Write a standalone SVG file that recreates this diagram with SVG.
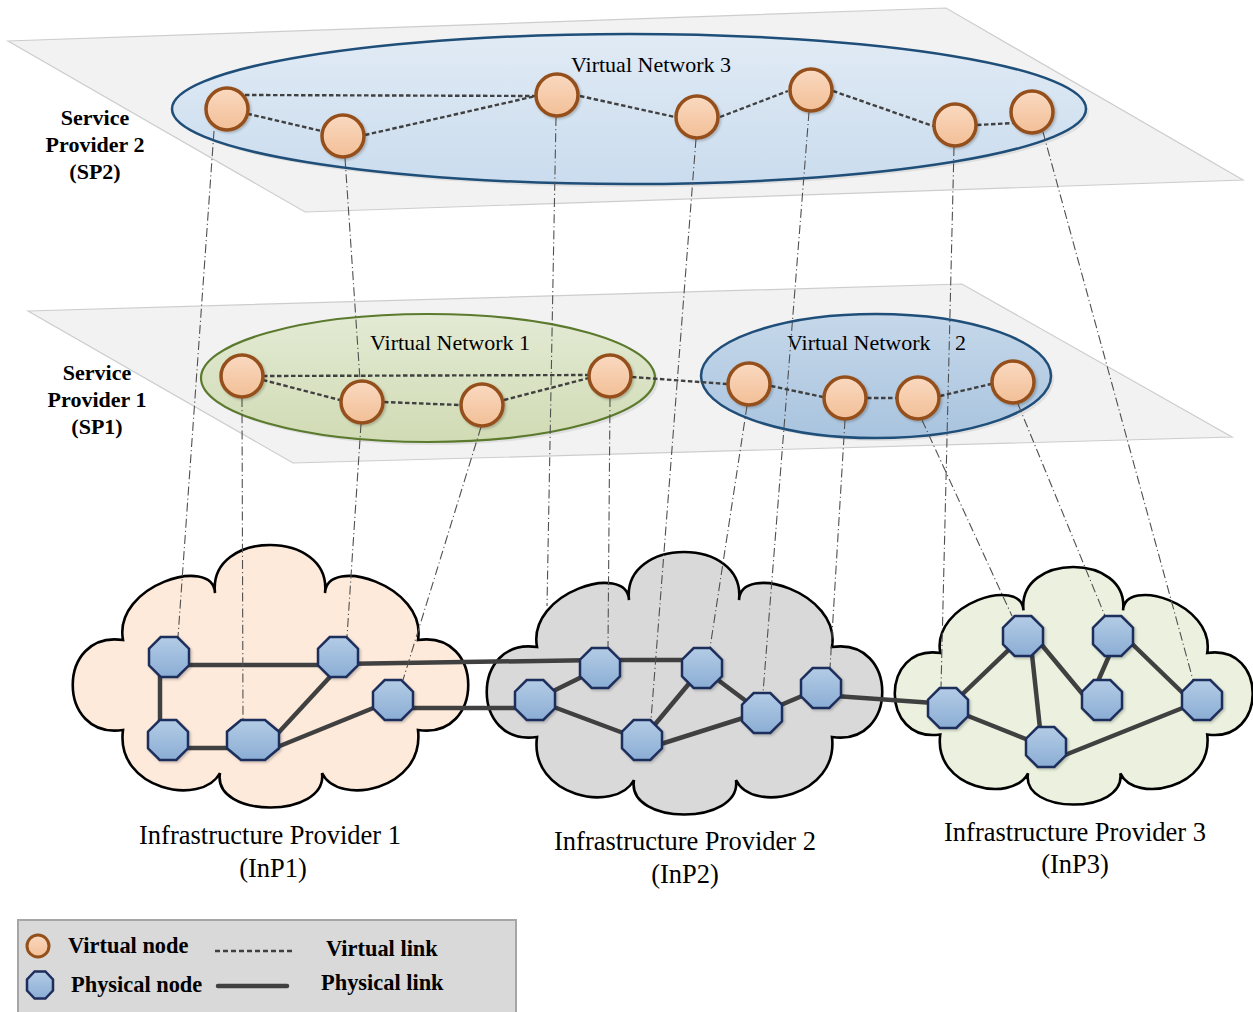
<svg xmlns="http://www.w3.org/2000/svg" xmlns:xlink="http://www.w3.org/1999/xlink" width="1253" height="1012" viewBox="0 0 1253 1012">
  <defs>
    <style>
      .plane { fill: #f2f2f2; stroke: #cdcdcd; stroke-width: 1.2; }
      .cloud { stroke: #000; stroke-width: 2.6; }
      .vnode { fill: url(#gVnode); stroke: #94501a; stroke-width: 3.5; filter: url(#shadow); }
      .pnode { fill: url(#gPnode); stroke: #1f2d5c; stroke-width: 2.5; filter: url(#shadow); }
      .vlink { fill: none; stroke: #404040; stroke-width: 2.4; stroke-dasharray: 4.5 2.5; }
      .plink { fill: none; stroke: #404040; stroke-width: 4.5; }
      .map { fill: none; stroke: #505050; stroke-width: 1.1; stroke-dasharray: 9 3 1.2 3; }
      .lbl { font-family: "Liberation Serif", "Times New Roman", serif; fill: #000; }
      .bold { font-weight: bold; font-size: 22px; text-anchor: middle; }
      .vn { font-size: 22px; }
      .inp { font-size: 26.5px; text-anchor: middle; }
      .leg { font-weight: bold; font-size: 22.4px; }
    </style>
    <linearGradient id="gVnode" x1="0" y1="0" x2="0" y2="1">
      <stop offset="0" stop-color="#fad9c0"/>
      <stop offset="1" stop-color="#f2bf97"/>
    </linearGradient>
    <linearGradient id="gPnode" x1="0" y1="0" x2="0" y2="1">
      <stop offset="0" stop-color="#b3cce6"/>
      <stop offset="1" stop-color="#8badd4"/>
    </linearGradient>
    <linearGradient id="gVN3" x1="0" y1="0" x2="0" y2="1">
      <stop offset="0" stop-color="#e1ebf5"/>
      <stop offset="1" stop-color="#cadcee"/>
    </linearGradient>
    <linearGradient id="gVN1" x1="0" y1="0" x2="0" y2="1">
      <stop offset="0" stop-color="#e3ead4"/>
      <stop offset="1" stop-color="#d1dbb4"/>
    </linearGradient>
    <linearGradient id="gVN2" x1="0" y1="0" x2="0" y2="1">
      <stop offset="0" stop-color="#c6d8ea"/>
      <stop offset="1" stop-color="#a9c4df"/>
    </linearGradient>
    <filter id="shadow" x="-30%" y="-30%" width="160%" height="160%">
      <feDropShadow dx="1.5" dy="1.5" stdDeviation="1.2" flood-color="#000" flood-opacity="0.22"/>
    </filter>
    <!-- cloud outline in local coordinates, roughly 395 x 263 -->
    <path id="cloudShape" d="M50,185 C-17,195 -17,85 50,95 C40,40 140,10 142,48 C135,-16 259,-16 252,48 C254,10 354,40 345,95 C412,85 412,195 345,185 C352,245 265,262 249,228 C255,274 139,274 147,228 C129,262 42,245 50,185 Z"/>
    <polygon id="oct" points="-8.3,-20 8.3,-20 20,-8.3 20,8.3 8.3,20 -8.3,20 -20,8.3 -20,-8.3"/>
  </defs>

  <rect width="1253" height="1012" fill="#fff"/>

  <!-- service provider planes -->
  <g id="plane-sp2">
    <polygon class="plane" points="8,41 946,8 1243,180 305,212"/>
  </g>
  <g id="plane-sp1">
    <polygon class="plane" points="28,311 962,284 1232,437 293,463"/>
  </g>

  <!-- virtual network regions -->
  <g id="vn3">
    <ellipse cx="632" cy="112" rx="457" ry="75" fill="#000" opacity="0.08"/>
    <ellipse cx="629" cy="109" rx="457" ry="75" fill="url(#gVN3)" stroke="#1f4e79" stroke-width="2.5"/>
    <text class="lbl vn" x="651" y="72" text-anchor="middle">Virtual Network 3</text>
  </g>
  <g id="vn1">
    <ellipse cx="431" cy="381" rx="227" ry="64" fill="#000" opacity="0.08"/>
    <ellipse cx="428" cy="378" rx="227" ry="64" fill="url(#gVN1)" stroke="#5b7a2e" stroke-width="2.2"/>
    <text class="lbl vn" x="450" y="350" text-anchor="middle">Virtual Network 1</text>
  </g>
  <g id="vn2">
    <ellipse cx="879" cy="379" rx="175" ry="62" fill="#000" opacity="0.08"/>
    <ellipse cx="876" cy="376" rx="175" ry="62" fill="url(#gVN2)" stroke="#1f4e79" stroke-width="2.5"/>
    <text class="lbl vn" x="787" y="350">Virtual Network<tspan x="955">2</tspan></text>
  </g>

  <!-- infrastructure provider clouds -->
  <g id="inp1">
    <use xlink:href="#cloudShape" class="cloud" fill="#fdeadb" transform="translate(73,545)"/>
  </g>
  <g id="inp2">
    <use xlink:href="#cloudShape" class="cloud" fill="#d9d9d9" transform="translate(487,552)"/>
  </g>
  <g id="inp3">
    <use xlink:href="#cloudShape" class="cloud" fill="#ebf1de" style="stroke-width:2.87" transform="translate(895,567) scale(0.905)"/>
  </g>

  <!-- connectors -->
  <g id="connectors">
    <!-- physical links -->
    <g id="physical-links">
      <line class="plink" x1="169" y1="665" x2="338" y2="665"/>
      <line class="plink" x1="338" y1="664" x2="600" y2="660"/>
      <line class="plink" x1="160" y1="657" x2="160" y2="740"/>
      <line class="plink" x1="168" y1="748" x2="253" y2="748"/>
      <line class="plink" x1="268" y1="744" x2="340" y2="666"/>
      <line class="plink" x1="265" y1="752" x2="393" y2="700"/>
      <line class="plink" x1="393" y1="708" x2="535" y2="708"/>
      <line class="plink" x1="535" y1="700" x2="600" y2="668"/>
      <line class="plink" x1="600" y1="660" x2="702" y2="660"/>
      <line class="plink" x1="535" y1="700" x2="642" y2="740"/>
      <line class="plink" x1="642" y1="740" x2="702" y2="668"/>
      <line class="plink" x1="702" y1="668" x2="762" y2="713"/>
      <line class="plink" x1="642" y1="750" x2="762" y2="712"/>
      <line class="plink" x1="762" y1="713" x2="821" y2="688"/>
      <line class="plink" x1="821" y1="695" x2="948" y2="704"/>
      <line class="plink" x1="948" y1="708" x2="1023" y2="636"/>
      <line class="plink" x1="948" y1="708" x2="1046" y2="747"/>
      <line class="plink" x1="1030" y1="636" x2="1042" y2="747"/>
      <line class="plink" x1="1036" y1="638" x2="1090" y2="703"/>
      <line class="plink" x1="1116" y1="640" x2="1095" y2="688"/>
      <line class="plink" x1="1125" y1="637" x2="1190" y2="700"/>
      <line class="plink" x1="1050" y1="761" x2="1200" y2="701"/>
    </g>
    <!-- node mappings between layers -->
    <g id="mappings">
      <line class="map" x1="214" y1="131" x2="178" y2="637"/>
      <line class="map" x1="345" y1="158" x2="360" y2="380"/>
      <line class="map" x1="361" y1="424" x2="347" y2="637"/>
      <line class="map" x1="556" y1="117" x2="547" y2="606"/>
      <line class="map" x1="696" y1="139" x2="651" y2="720"/>
      <line class="map" x1="809" y1="112" x2="763" y2="693"/>
      <line class="map" x1="954" y1="147" x2="941" y2="688"/>
      <line class="map" x1="1043" y1="132" x2="1193" y2="680"/>
      <line class="map" x1="242" y1="398" x2="243" y2="720"/>
      <line class="map" x1="481" y1="427" x2="403" y2="680"/>
      <line class="map" x1="610" y1="398" x2="608" y2="648"/>
      <line class="map" x1="747" y1="406" x2="710" y2="648"/>
      <line class="map" x1="845" y1="420" x2="830" y2="668"/>
      <line class="map" x1="922" y1="420" x2="1012" y2="616"/>
      <line class="map" x1="1018" y1="404" x2="1105" y2="616"/>
    </g>
    <!-- virtual links -->
    <g id="virtual-links">
      <line class="vlink" x1="245" y1="95" x2="536" y2="96"/>
      <line class="vlink" x1="227" y1="109" x2="343" y2="136"/>
      <line class="vlink" x1="365" y1="135" x2="536" y2="96"/>
      <line class="vlink" x1="580" y1="96" x2="675" y2="117"/>
      <line class="vlink" x1="720" y1="117" x2="788" y2="91"/>
      <line class="vlink" x1="833" y1="91" x2="933" y2="126"/>
      <line class="vlink" x1="977" y1="125" x2="1013" y2="123"/>
      <line class="vlink" x1="263" y1="376" x2="589" y2="375"/>
      <line class="vlink" x1="263" y1="380" x2="340" y2="400"/>
      <line class="vlink" x1="384" y1="402" x2="460" y2="405"/>
      <line class="vlink" x1="504" y1="400" x2="589" y2="378"/>
      <line class="vlink" x1="632" y1="377" x2="727" y2="384"/>
      <line class="vlink" x1="771" y1="386" x2="823" y2="397"/>
      <line class="vlink" x1="867" y1="398" x2="896" y2="398"/>
      <line class="vlink" x1="940" y1="396" x2="991" y2="384"/>
    </g>
  </g>

  <!-- virtual nodes -->
  <g id="vn3-n1"><circle class="vnode" cx="227" cy="109" r="21"/></g>
  <g id="vn3-n2"><circle class="vnode" cx="343" cy="136" r="21"/></g>
  <g id="vn3-n3"><circle class="vnode" cx="557" cy="95" r="21"/></g>
  <g id="vn3-n4"><circle class="vnode" cx="697" cy="117" r="21"/></g>
  <g id="vn3-n5"><circle class="vnode" cx="811" cy="90" r="21"/></g>
  <g id="vn3-n6"><circle class="vnode" cx="955" cy="125" r="21"/></g>
  <g id="vn3-n7"><circle class="vnode" cx="1032" cy="112" r="21"/></g>
  <g id="vn1-a"><circle class="vnode" cx="242" cy="376" r="21"/></g>
  <g id="vn1-b"><circle class="vnode" cx="362" cy="402" r="21"/></g>
  <g id="vn1-c"><circle class="vnode" cx="482" cy="405" r="21"/></g>
  <g id="vn1-d"><circle class="vnode" cx="610" cy="376" r="21"/></g>
  <g id="vn2-e"><circle class="vnode" cx="749" cy="384" r="21"/></g>
  <g id="vn2-f"><circle class="vnode" cx="845" cy="398" r="21"/></g>
  <g id="vn2-g"><circle class="vnode" cx="918" cy="398" r="21"/></g>
  <g id="vn2-h"><circle class="vnode" cx="1013" cy="382" r="21"/></g>

  <!-- physical nodes -->
  <g id="inp1-p1"><use xlink:href="#oct" class="pnode" x="169" y="657"/></g>
  <g id="inp1-p2"><use xlink:href="#oct" class="pnode" x="338" y="657"/></g>
  <g id="inp1-p3"><use xlink:href="#oct" class="pnode" x="393" y="700"/></g>
  <g id="inp1-p4"><use xlink:href="#oct" class="pnode" x="168" y="740"/></g>
  <g id="inp1-p5"><polygon class="pnode" transform="translate(253,740)" points="-12,-20 12,-20 26,-8.3 26,8.3 12,20 -12,20 -26,8.3 -26,-8.3"/></g>
  <g id="inp2-q0"><use xlink:href="#oct" class="pnode" x="535" y="700"/></g>
  <g id="inp2-q1"><use xlink:href="#oct" class="pnode" x="600" y="668"/></g>
  <g id="inp2-q2"><use xlink:href="#oct" class="pnode" x="702" y="668"/></g>
  <g id="inp2-q3"><use xlink:href="#oct" class="pnode" x="642" y="740"/></g>
  <g id="inp2-q4"><use xlink:href="#oct" class="pnode" x="762" y="713"/></g>
  <g id="inp2-q5"><use xlink:href="#oct" class="pnode" x="821" y="688"/></g>
  <g id="inp3-r0"><use xlink:href="#oct" class="pnode" x="948" y="708"/></g>
  <g id="inp3-r1"><use xlink:href="#oct" class="pnode" x="1023" y="636"/></g>
  <g id="inp3-r2"><use xlink:href="#oct" class="pnode" x="1113" y="636"/></g>
  <g id="inp3-r3"><use xlink:href="#oct" class="pnode" x="1102" y="700"/></g>
  <g id="inp3-r4"><use xlink:href="#oct" class="pnode" x="1202" y="700"/></g>
  <g id="inp3-r5"><use xlink:href="#oct" class="pnode" x="1046" y="747"/></g>

  <!-- layer labels -->
  <g id="label-sp2">
    <text class="lbl bold" x="95" y="125">Service</text>
    <text class="lbl bold" x="95" y="152">Provider 2</text>
    <text class="lbl bold" x="95" y="179">(SP2)</text>
  </g>
  <g id="label-sp1">
    <text class="lbl bold" x="97" y="380">Service</text>
    <text class="lbl bold" x="97" y="407">Provider 1</text>
    <text class="lbl bold" x="97" y="434">(SP1)</text>
  </g>
  <g id="label-inp1">
    <text class="lbl inp" x="270" y="844">Infrastructure Provider 1</text>
    <text class="lbl inp" x="273" y="877">(InP1)</text>
  </g>
  <g id="label-inp2">
    <text class="lbl inp" x="685" y="850">Infrastructure Provider 2</text>
    <text class="lbl inp" x="685" y="883">(InP2)</text>
  </g>
  <g id="label-inp3">
    <text class="lbl inp" x="1075" y="841">Infrastructure Provider 3</text>
    <text class="lbl inp" x="1075" y="873">(InP3)</text>
  </g>

  <!-- legend -->
  <g id="legend">
    <rect x="18" y="920" width="498" height="110" fill="#d9d9d9" stroke="#a6a6a6" stroke-width="2"/>
    <circle cx="38" cy="946" r="11" fill="url(#gVnode)" stroke="#94501a" stroke-width="3"/>
    <text class="lbl leg" x="68" y="953">Virtual node</text>
    <line x1="215" y1="951" x2="292" y2="951" stroke="#404040" stroke-width="2.5" stroke-dasharray="5 3"/>
    <text class="lbl leg" x="326" y="956">Virtual link</text>
    <polygon transform="translate(40,985)" points="-5.4,-13.5 5.4,-13.5 13,-5.6 13,5.6 5.4,13.5 -5.4,13.5 -13,5.6 -13,-5.6" fill="url(#gPnode)" stroke="#1f2d5c" stroke-width="2.5"/>
    <text class="lbl leg" x="71" y="992">Physical node</text>
    <line x1="218" y1="986" x2="287" y2="986" stroke="#404040" stroke-width="4.5" stroke-linecap="round"/>
    <text class="lbl leg" x="321" y="990">Physical link</text>
  </g>
</svg>
